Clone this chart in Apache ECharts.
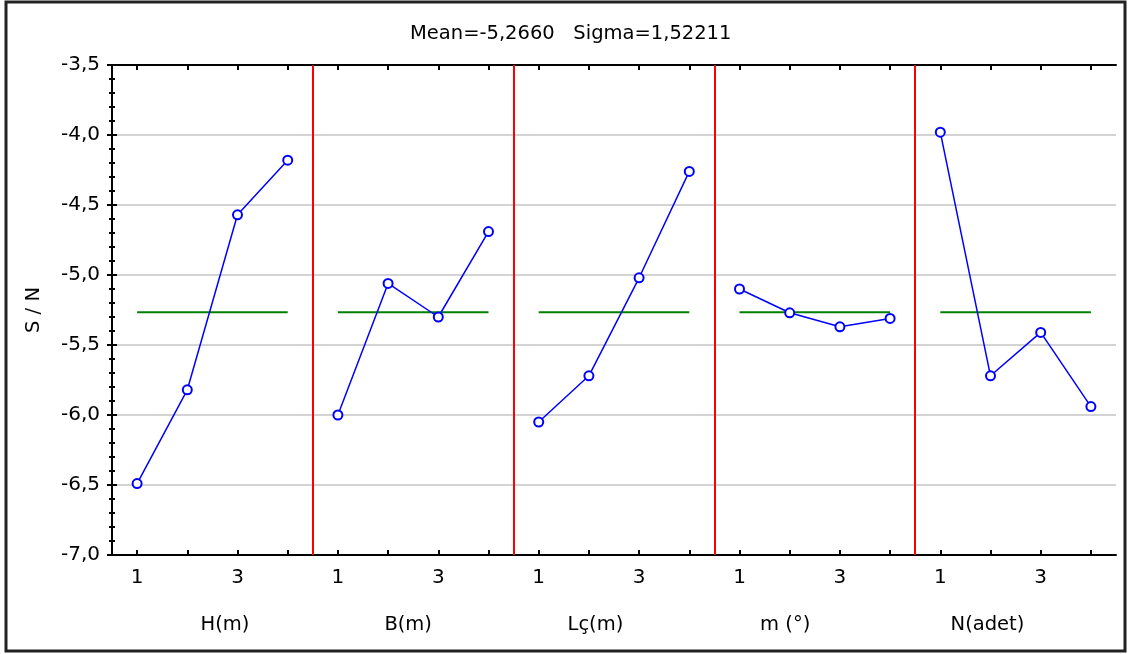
<!DOCTYPE html>
<html lang="en">
<head>
    <meta charset="UTF-8">
    <title>S/N main effects</title>
    <script src="https://cdn.jsdelivr.net/npm/echarts@6/dist/echarts.min.js"></script>
    <style>
        html, body, #chart {
            height: 100%;
            padding: 0;
            margin: 0;
            background: #fff;
        }
    </style>
</head>
<body>
<div id="chart"></div>
<script>
    // factor names and levels
    var factorNames = ["H(m)", "B(m)", "Lç(m)", "m (°)", "N(adet)"];
    var levelLabels = ["1", "2", "3", "4"];
    var shownLevels = [0, 2];

    // S/N per level
    var hValues = [-6.49, -5.82, -4.57, -4.18];
    var bValues = [-6.00, -5.06, -5.30, -4.69];
    var lcValues = [-6.05, -5.72, -5.02, -4.26];
    var mValues = [-5.10, -5.27, -5.37, -5.31];
    var nValues = [-3.98, -5.72, -5.41, -5.94];

    var meanSN = -5.2660;
    var sigmaSN = 1.52211;

    var yMin = -7.0, yMax = -3.5, yStep = 0.5;

    var allValues = [hValues, bValues, lcValues, mValues, nValues];
    var nLevels = levelLabels.length;
    var xMax = factorNames.length * nLevels;

    function comma(v, d) {
        return v.toFixed(d).replace(".", ",");
    }

    var tickPos = [], labelPos = [], namePos = [], boundaries = [];
    // name labels sit a bit off panel centre in the original
    var nameShift = [2.25, 1.9, 1.63, 1.41, 1.44];
    factorNames.forEach(function (f, p) {
        for (var i = 0; i < nLevels; i++) tickPos.push(p * nLevels + i + 0.5);
        shownLevels.forEach(function (i) { labelPos.push(p * nLevels + i + 0.5); });
        namePos.push(p * nLevels + nameShift[p]);
        if (p > 0) boundaries.push({xAxis: p * nLevels});
    });

    var series = [];
    allValues.forEach(function (vals, p) {
        series.push({
            type: "line",
            name: factorNames[p] + " mean",
            data: [[p * nLevels + 0.5, meanSN], [p * nLevels + nLevels - 0.5, meanSN]],
            symbol: "none",
            lineStyle: {color: "#008000", width: 2},
            z: 2
        });
        series.push({
            type: "line",
            name: factorNames[p],
            data: vals.map(function (v, i) { return [p * nLevels + i + 0.5, v]; }),
            symbol: "emptyCircle",
            symbolSize: 9,
            itemStyle: {color: "#0000ff", borderWidth: 1.5},
            lineStyle: {color: "#0000ff", width: 1.5},
            z: 3
        });
    });
    series[0].markLine = {
        silent: true,
        symbol: "none",
        label: {show: false},
        lineStyle: {color: "#ff0000", width: 2, type: "solid"},
        data: boundaries
    };

    var font = "DejaVu Sans, Arial, sans-serif";
    var frameLine = {show: true, lineStyle: {color: "#000", width: 2}};

    var chart = echarts.init(document.getElementById("chart"));
    chart.setOption({
        animation: false,
        title: {
            text: "Mean=" + comma(meanSN, 4) + "   Sigma=" + comma(sigmaSN, 5),
            left: 405,
            top: 19,
            textStyle: {fontFamily: font, fontSize: 19.5, fontWeight: "normal", color: "#000"}
        },
        graphic: [{
            type: "rect",
            shape: {x: 6, y: 2, width: 1119, height: 649},
            style: {fill: "none", stroke: "#222", lineWidth: 3},
            silent: true
        }],
        grid: {left: 112, right: 13, top: 65, bottom: 99},
        xAxis: [{
            type: "value", min: 0, max: xMax, position: "bottom",
            axisLine: frameLine,
            splitLine: {show: false},
            axisTick: {show: true, inside: true, length: 5, customValues: tickPos, lineStyle: {color: "#000", width: 2}},
            axisLabel: {
                customValues: labelPos, margin: 13,
                fontFamily: font, fontSize: 20, color: "#000",
                formatter: function (v) { return levelLabels[Math.floor(v % nLevels)]; }
            }
        }, {
            type: "value", min: 0, max: xMax, position: "top",
            axisLine: frameLine,
            splitLine: {show: false},
            axisTick: {show: true, inside: true, length: 5, customValues: tickPos, lineStyle: {color: "#000", width: 2}},
            axisLabel: {show: false}
        }, {
            type: "value", min: 0, max: xMax, position: "bottom",
            axisLine: {show: false},
            splitLine: {show: false},
            axisTick: {show: false},
            axisLabel: {
                customValues: namePos, margin: 60,
                fontFamily: font, fontSize: 19.5, color: "#000",
                formatter: function (v) { return factorNames[Math.floor(v / nLevels)]; }
            }
        }],
        yAxis: [{
            type: "value", min: yMin, max: yMax, interval: yStep, position: "left",
            name: "S / N", nameLocation: "middle", nameGap: 68, nameRotate: 90,
            nameTextStyle: {fontFamily: font, fontSize: 19.5, color: "#000"},
            axisLine: frameLine,
            axisTick: {show: true, inside: true, length: 5, lineStyle: {color: "#000", width: 2}},
            minorTick: {show: true, splitNumber: 5, length: 3, lineStyle: {color: "#000", width: 2}},
            splitLine: {show: true, lineStyle: {color: "#d3d3d3", width: 2}},
            axisLabel: {
                margin: 12, fontFamily: font, fontSize: 20, color: "#000",
                formatter: function (v) { return comma(v, 1); }
            }
        }, {
            type: "value", min: yMin, max: yMax, interval: yStep, position: "right",
            axisLine: frameLine,
            axisTick: {show: true, inside: true, length: 5, lineStyle: {color: "#000", width: 2}},
            minorTick: {show: true, splitNumber: 5, length: 3, lineStyle: {color: "#000", width: 2}},
            splitLine: {show: false},
            axisLabel: {show: false}
        }],
        series: series
    });
</script>
</body>
</html>
